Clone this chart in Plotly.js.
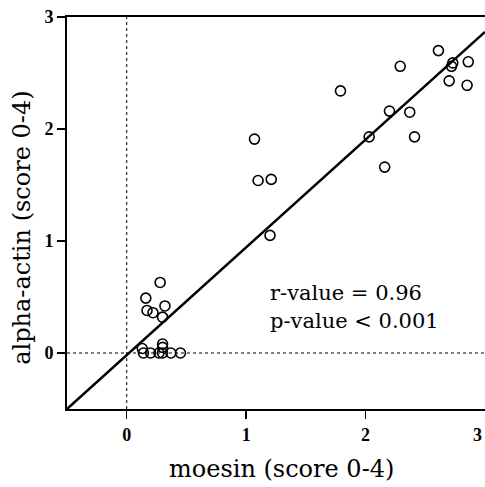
<!DOCTYPE html>
<html>
<head>
<meta charset="utf-8">
<script src="https://cdn.plot.ly/plotly-3.0.1.min.js"></script>
<style>html,body{margin:0;padding:0;background:#fff;}#chart{width:485px;height:487px;}</style>
</head>
<body>
<div id="chart"></div>
<script>
// moesin score (x) vs alpha-actin score (y)
const moesin = [2.61, 2.72, 2.73, 2.86, 2.70, 2.85, 2.29, 1.79, 2.20, 2.37, 2.03, 2.41, 2.16,
                1.07, 1.10, 1.21, 1.20,
                0.28, 0.16, 0.17, 0.22, 0.32, 0.30,
                0.30, 0.30, 0.13, 0.14, 0.20, 0.27, 0.30, 0.37, 0.45];
const alphaActin = [2.70, 2.56, 2.59, 2.60, 2.43, 2.39, 2.56, 2.34, 2.16, 2.15, 1.93, 1.93, 1.66,
                    1.91, 1.54, 1.55, 1.05,
                    0.63, 0.49, 0.38, 0.36, 0.42, 0.32,
                    0.08, 0.05, 0.04, 0.0, 0.0, 0.0, 0.0, 0.0, 0.0];
const fitSlope = 0.962;
const fitIntercept = -0.019;
const fitX = [-0.5, 3];
const fitY = fitX.map(x => fitSlope * x + fitIntercept);
const tickVals = [0, 1, 2];
const yTickVals = [0, 1, 2, 3];
const tickLabels = ['0', '1', '2', '3'];
const statLabels = ['r-value = 0.96', 'p-value < 0.001'];
const xTitle = 'moesin (score 0-4)';
const yTitle = 'alpha-actin (score 0-4)';

const serif = 'DejaVu Serif, serif';
const tickFont = {family: 'Liberation Serif, serif', size: 18, color: '#000', weight: 'bold'};
const data = [
  {x: fitX, y: fitY, mode: 'lines', type: 'scatter', line: {color: '#000', width: 2.5}, hoverinfo: 'skip'},
  {x: moesin, y: alphaActin, mode: 'markers', type: 'scatter',
   marker: {symbol: 'circle-open', size: 10, color: '#000', line: {color: '#000', width: 1.6}}}
];
const axBase = {
  showgrid: false, zeroline: false, showline: true, linecolor: '#000', linewidth: 2,
  ticks: 'outside', ticklen: 8, tickwidth: 1.5, tickcolor: '#000',
  tickfont: tickFont
};
const layout = {
  width: 485, height: 487,
  margin: {l: 67, r: 0, t: 17, b: 78},
  paper_bgcolor: '#fff', plot_bgcolor: '#fff',
  showlegend: false,
  xaxis: Object.assign({}, axBase, {range: [-0.5, 3], mirror: true, tickvals: tickVals, ticktext: tickLabels.slice(0, 3)}),
  yaxis: Object.assign({}, axBase, {range: [-0.5, 3], tickvals: yTickVals, ticktext: tickLabels}),
  shapes: [
    {type: 'line', xref: 'x', yref: 'y', x0: 0, x1: 0, y0: -0.5, y1: 3, line: {color: '#000', width: 1, dash: 'dot'}, layer: 'below'},
    {type: 'line', xref: 'x', yref: 'y', x0: -0.5, x1: 3, y0: 0, y1: 0, line: {color: '#000', width: 1, dash: 'dot'}, layer: 'below'}
  ],
  annotations: [
    {xref: 'x', yref: 'y', x: 1.18, y: 0.536, text: statLabels[0], showarrow: false, xanchor: 'left', yanchor: 'middle', font: {family: serif, size: 21, color: '#000'}},
    {xref: 'x', yref: 'y', x: 1.18, y: 0.29, text: statLabels[1], showarrow: false, xanchor: 'left', yanchor: 'middle', font: {family: serif, size: 21, color: '#000'}},
    {xref: 'paper', yref: 'paper', x: 0.512, y: -0.153, text: xTitle, showarrow: false, xanchor: 'center', yanchor: 'middle', font: {family: serif, size: 24, color: '#000'}},
    {xref: 'paper', yref: 'paper', x: -0.108, y: 0.462, text: yTitle, showarrow: false, textangle: -90, xanchor: 'center', yanchor: 'middle', font: {family: serif, size: 24, color: '#000'}},
    {xref: 'paper', yref: 'paper', x: 0.998, y: -0.066, text: tickLabels[3], showarrow: false, xanchor: 'right', yanchor: 'middle', font: tickFont}
  ]
};
Plotly.newPlot('chart', data, layout, {staticPlot: true, displayModeBar: false});
</script>
</body>
</html>
